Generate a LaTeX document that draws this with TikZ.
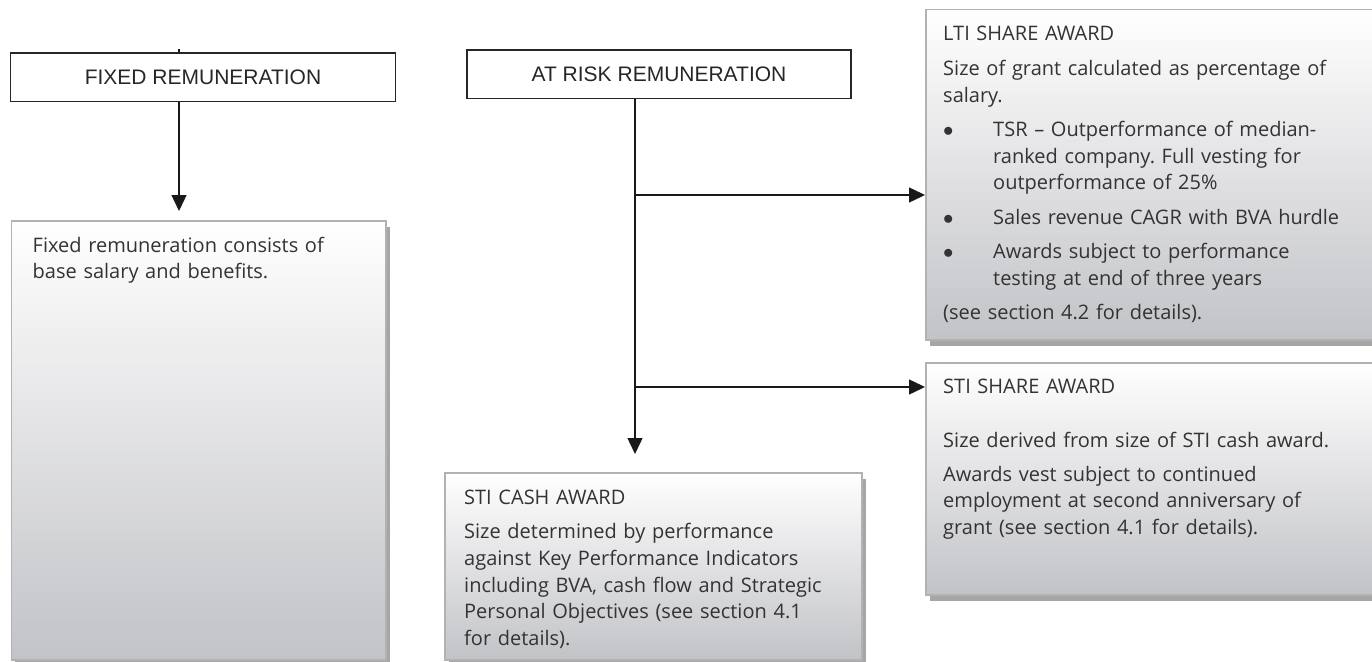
\documentclass[tikz,border=0pt]{standalone}
\usepackage{fontspec}
\setmainfont{Open Sans}
\newfontfamily\headfont{Liberation Sans}
\usetikzlibrary{calc,arrows.meta,shadows}
\definecolor{boxgray}{RGB}{194,195,199}
\definecolor{edgegray}{RGB}{178,178,180}
\definecolor{inkgray}{RGB}{51,51,51}
\newcommand{\lbul}{\makebox[50pt][l]{\hspace{0pt}$\bullet$}}
\newcommand{\lind}{\hspace*{50pt}}
\frenchspacing

\begin{document}
\begin{tikzpicture}[x=1pt, y=-1pt,
    head/.style={draw=black!85, line width=1.3pt, minimum width=385pt, minimum height=48.6pt,
      inner sep=0pt, font=\headfont\fontsize{21}{25}\selectfont, text=black!85},
    panel/.style={draw=edgegray, line width=1.5pt, top color=white, bottom color=boxgray,
      anchor=north west, inner sep=0pt,
      drop shadow={shadow xshift=4pt, shadow yshift=-6pt, opacity=1, fill=black!35}},
    body/.style={anchor=base west, inner sep=0pt, align=left, text width=430pt,
      text=inkgray, font=\fontsize{20}{26.7}\selectfont},
    link/.style={draw=black!90, line width=1.4pt},
    arr/.style={link, -{Triangle[length=16pt,width=15pt]}}]

    \useasboundingbox (0,0) rectangle (1372,661);

    % coordinates to be reused
    \coordinate (F) at (179,0);
    \coordinate (R) at (635,0);
    \coordinate (B1) at (635,195);
    \coordinate (B2) at (635,387);

    % draw boxes
    \node [head] (fixhead) at (203,77.3) {FIXED REMUNERATION};
    \node [head, minimum width=384pt] (riskhead) at (659,74.3) {AT RISK REMUNERATION};
    \node [panel, minimum width=374.5pt, minimum height=439pt] (fixbox) at (10.5,220) {};
    \node [panel, minimum width=417pt, minimum height=187pt] (cashbox) at (444,472) {};
    \node [panel, minimum width=460pt, minimum height=330pt] (ltibox) at (925,9) {};
    \node [panel, minimum width=460pt, minimum height=232pt] (stibox) at (925,362) {};

    % connectors
    \draw [link] (fixhead.north -| F) -- ++(0,-3);
    \draw [arr] (fixhead.south -| F) -- ([yshift=9pt]fixbox.north -| F);
    \draw [arr] (riskhead.south -| R) -- ([yshift=18pt]cashbox.north -| R);
    \draw [arr] (B1) -- (B1 -| ltibox.west);
    \draw [arr] (B2) -- (B2 -| stibox.west);

    % add labels
    \node [body] (fixtxt) at ($(fixbox.north west)+(22,32)$)
      {Fixed remuneration consists of\\base salary and benefits.};
    \node [body] (cashtxt) at ($(cashbox.north west)+(20,32)$)
      {STI CASH AWARD\\[8pt]
       Size determined by performance\\
       against Key Performance Indicators\\
       including BVA, cash flow and Strategic\\
       Personal Objectives (see section 4.1\\
       for details).};
    \node [body] (ltitxt) at ($(ltibox.north west)+(18,32)$)
      {LTI SHARE AWARD\\[8pt]
       Size of grant calculated as percentage of\\
       salary.\\[7.5pt]
       \lbul TSR -- Outperformance of median-\\
       \lind ranked company. Full vesting for\\
       \lind outperformance of 25\%\\[7.5pt]
       \lbul Sales revenue CAGR with BVA hurdle\\[7.5pt]
       \lbul Awards subject to performance\\
       \lind testing at end of three years\\[7.5pt]
       (see section 4.2 for details).};
    \node [body] (stitxt) at ($(stibox.north west)+(18,31)$)
      {STI SHARE AWARD\\[27.3pt]
       Size derived from size of STI cash award.\\[7.5pt]
       Awards vest subject to continued\\
       employment at second anniversary of\\
       grant (see section 4.1 for details).};
\end{tikzpicture}
\end{document}
